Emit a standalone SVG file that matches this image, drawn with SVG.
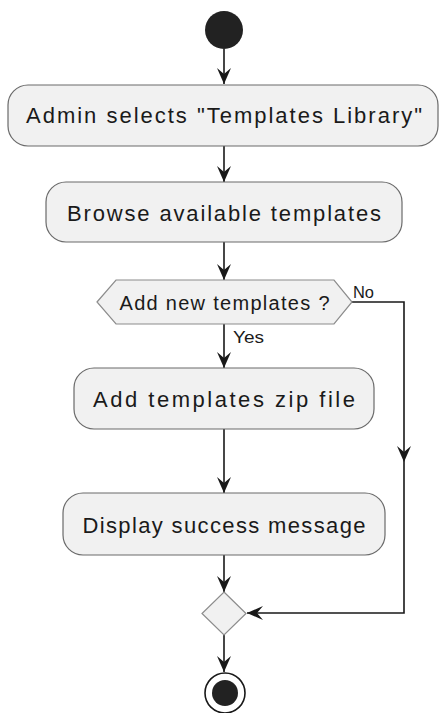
<svg xmlns="http://www.w3.org/2000/svg" width="439" height="713" viewBox="0 0 439 713">
  <style>
    .act { fill: #F1F1F1; stroke: #6a6a6a; stroke-width: 1.2; }
    .dec { fill: #F1F1F1; stroke: #8c8c8c; stroke-width: 1.2; }
    .lbl { font-family: "Liberation Sans", Arial, sans-serif; font-size: 22px; fill: #1a1a1a; text-anchor: middle; }
    .qlbl { font-family: "Liberation Sans", Arial, sans-serif; font-size: 20px; fill: #1a1a1a; text-anchor: middle; }
    .small { font-family: "Liberation Sans", Arial, sans-serif; font-size: 16px; fill: #1a1a1a; }
    .edge { fill: none; stroke: #181818; stroke-width: 1.6; }
    .head { fill: #181818; stroke: none; }
  </style>
  <rect width="439" height="713" fill="#ffffff"/>

  <g id="edges">
    <path class="edge" d="M224,49 V84"/>
    <polygon class="head" points="217,68 224,84 231,68 224,74"/>
    <path class="edge" d="M224,146 V182"/>
    <polygon class="head" points="217,166 224,182 231,166 224,172"/>
    <path class="edge" d="M224,242 V280"/>
    <polygon class="head" points="217,264 224,280 231,264 224,270"/>
    <path class="edge" d="M224,324 V368"/>
    <polygon class="head" points="217,352 224,368 231,352 224,358"/>
    <path class="edge" d="M224,429 V493"/>
    <polygon class="head" points="217,477 224,493 231,477 224,483"/>
    <path class="edge" d="M224,555 V592"/>
    <polygon class="head" points="217,576 224,592 231,576 224,582"/>
    <path class="edge" d="M224,635 V672"/>
    <polygon class="head" points="217,656 224,672 231,656 224,662"/>
    <!-- "No" branch around the actions back to the merge -->
    <path class="edge" d="M352,302 H404 V613 H247"/>
    <polygon class="head" points="397,446 404,462 411,446 404,452"/>
    <polygon class="head" points="263,606 247,613 263,620 257,613"/>
    <text class="small" x="353" y="298" textLength="21" lengthAdjust="spacingAndGlyphs">No</text>
    <text class="small" x="233" y="343" textLength="31" lengthAdjust="spacingAndGlyphs">Yes</text>
  </g>

  <g id="start">
    <circle cx="224" cy="30" r="19" fill="#222222"/>
  </g>

  <g id="select-library">
    <rect class="act" x="8" y="85" width="430" height="61" rx="20" ry="20"/>
    <text class="lbl" x="224" y="123" textLength="396" lengthAdjust="spacing">Admin selects "Templates Library"</text>
  </g>

  <g id="browse-templates">
    <rect class="act" x="46" y="182" width="356" height="60" rx="20" ry="20"/>
    <text class="lbl" x="224" y="221" textLength="314" lengthAdjust="spacing">Browse available templates</text>
  </g>

  <g id="add-decision">
    <polygon class="dec" points="97,302 116,280 334,280 352,302 334,324 116,324"/>
    <text class="qlbl" x="224.5" y="310" textLength="210" lengthAdjust="spacing">Add new templates ?</text>
  </g>

  <g id="add-zip">
    <rect class="act" x="74" y="368" width="300" height="61" rx="20" ry="20"/>
    <text class="lbl" x="224" y="407" textLength="262" lengthAdjust="spacing">Add templates zip file</text>
  </g>

  <g id="display-success">
    <rect class="act" x="63" y="493" width="322" height="62" rx="20" ry="20"/>
    <text class="lbl" x="224" y="533" textLength="283" lengthAdjust="spacing">Display success message</text>
  </g>

  <g id="merge">
    <polygon class="dec" points="224,592 246,613.5 224,635 202,613.5"/>
  </g>

  <g id="end">
    <circle cx="225" cy="693" r="20" fill="#ffffff" stroke="#181818" stroke-width="1.6"/>
    <circle cx="225" cy="693" r="13" fill="#222222"/>
  </g>
</svg>
